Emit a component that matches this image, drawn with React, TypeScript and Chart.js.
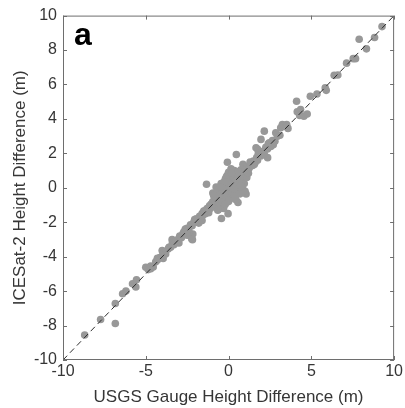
import React, { useEffect, useRef } from "react";
import { Chart, registerables } from "chart.js";

Chart.register(...registerables);

// USGS gauge height difference (m) -> x
const gaugeDiff: number[] = [
  9.27, 7.89, 8.33, 8.82, 7.67, 7.53, 7.13, 6.6, 6.38, 5.84, 5.9, 5.34, 4.94, 4.11, 4.35, 4.55, 4.15, 4.75, 4.3,
  3.59, 3.51, 3.25, 3.15, 2.85, 2.16, 1.96, 2.46, 1.66, 1.76, 2.36, 0.47, -0.07, 0.87, -1.33, 1.06, 0.57, -0.43,
  -0.03, -2.18, -2.16, -2.61, -2.22, -3.41, -4.01, -5.0, -4.7, -5.56, -5.8, -5.6, -6.4, -6.2, -6.84, -6.84, -7.73,
  -8.69,
  -4.85, -4.7, -4.55, -4.4, -4.3, -4.15, -4.0, -3.9, -3.8, -3.65, -3.5, -3.4, -3.3, -3.15, -3.05, -2.95, -2.85,
  -2.75, -2.6, -2.5, -2.4, -2.3, -2.2, -2.1, -2.0, -1.95, -1.85, -1.75, -1.7, -1.6, -1.55, -1.45, -1.4, -1.3,
  -1.25, -1.15, -1.1, -1.05, -1.0,
  -0.95, -0.9, -0.85, -0.8, -0.8, -0.75, -0.7, -0.7, -0.65, -0.6, -0.6, -0.55, -0.55, -0.5, -0.5, -0.45, -0.45,
  -0.4, -0.4, -0.35, -0.35, -0.3, -0.3, -0.25, -0.25, -0.2, -0.2, -0.15, -0.15, -0.1, -0.1, -0.05, -0.05, 0.0,
  0.0, 0.0, 0.05, 0.05, 0.1, 0.1, 0.15, 0.15, 0.15, 0.2, 0.2, 0.25, 0.25, 0.3, 0.3, 0.35, 0.35, 0.4, 0.4, 0.45,
  0.5, 0.5, 0.55, 0.6, 0.6, 0.65, 0.7, 0.75, 0.8, 0.85, 0.9, 0.95, 1.0, 1.0, 1.1, 1.15,
  1.25, 1.35, 1.45, 1.5, 1.6, 1.7, 1.75, 1.85, 1.95, 2.05, 2.15, 2.25, 2.35, 2.45, 2.55, 2.65, 2.8, 2.95, 3.1,
  -0.95, -0.75, -0.6, -0.45, -0.3, -0.15, 0.05, 0.2, 0.35, 0.55, 0.7, 0.85, 0.95, 1.1, -0.65, -0.2, 0.45, 0.75,
  -0.9, -0.5, -0.1, 0.3, 0.6, 1.2, -1.2, -1.5, -1.8, -2.05, -2.4, -2.7, -3.0, -3.6, -3.95, -4.3, -1.6, -2.5,
  1.3, 1.55, 1.8, 2.1, 2.4, 2.7,
];

// ICESat-2 height difference (m) -> y
const icesatDiff: number[] = [
  9.36, 8.63, 8.07, 8.73, 7.5, 7.5, 7.24, 6.55, 6.53, 5.8, 5.66, 5.45, 5.32, 5.03, 4.55, 4.16, 4.41, 4.29, 4.2,
  3.45, 3.68, 3.68, 3.49, 3.2, 3.29, 2.81, 2.62, 2.33, 2.24, 1.75, 1.93, 1.48, 1.37, 0.21, -0.36, -0.85, -1.78,
  -1.5, -3.01, -2.68, -2.39, -2.97, -3.01, -3.64, -4.61, -4.7, -5.34, -5.57, -5.76, -6.15, -6.0, -6.72, -7.88,
  -7.65, -8.55,
  -4.75, -4.55, -4.6, -4.3, -4.2, -4.05, -3.95, -3.75, -3.85, -3.55, -3.45, -3.25, -3.3, -3.05, -3.0, -2.8,
  -2.9, -2.65, -2.55, -2.35, -2.45, -2.15, -2.2, -2.0, -1.95, -1.8, -1.85, -1.65, -1.75, -1.5, -1.6, -1.35,
  -1.5, -1.2, -1.35, -1.05, -1.2, -0.95, -1.1,
  -0.8, -0.95, -0.7, -0.55, -1.0, -0.85, -0.6, -0.35, -0.75, -0.45, -0.9, -0.2, -0.6, -0.4, -1.05, -0.1, -0.7,
  -0.3, 0.1, -0.5, -0.85, -0.15, 0.3, -0.35, -1.0, 0.0, 0.5, -0.25, -0.65, 0.2, 0.7, -0.1, -0.45, 0.35,
  0.9, -0.8, 0.1, -0.3, 0.55, -0.05, 0.25, 1.1, -0.55, 0.4, 0.0, 0.75, -0.2, 0.2, 0.5, 1.0, 0.05, 0.35, -0.35, 0.65,
  0.45, 0.15, 0.9, 0.55, -0.15, 0.75, 0.4, 1.05, 0.65, -0.05, 0.9, 0.6, -0.2, 1.05, 0.95, 1.25,
  1.15, 1.4, 1.3, 1.55, 1.45, 1.75, 1.6, 1.9, 1.85, 2.1, 2.0, 2.35, 2.25, 2.5, 2.4, 2.75, 2.7, 3.0, 3.05,
  -0.3, 0.05, -1.25, 0.25, -1.2, 0.6, -0.7, 0.85, -0.45, 0.05, -0.35, 0.3, 0.25, 0.6, -1.3, -0.95, -0.7, 0.1,
  -0.45, 0.05, 0.35, -0.05, 0.95, 0.85, -1.45, -1.35, -2.05, -1.85, -2.6, -2.55, -3.2, -3.45, -4.1, -4.1, -1.9, -2.75,
  1.5, 1.35, 2.0, 1.95, 2.55, 2.5,
];

const oneToOne: number[] = [-10, 10];
const xTicks: number[] = [-10, -5, 0, 5, 10];
const yTicks: number[] = [-10, -8, -6, -4, -2, 0, 2, 4, 6, 8, 10];
const xTitle = "USGS Gauge Height Difference (m)";
const yTitle = "ICESat-2 Height Difference (m)";
const panelLabel = "a";

const FONT = "'Liberation Sans', Arial, Helvetica, sans-serif";
const TEXT = "#363636";
const AXIS = "#6e6e6e";

export default function App() {
  const ref = useRef<HTMLCanvasElement>(null);

  useEffect(() => {
    if (!ref.current) return;
    const points = gaugeDiff.map((x, i) => ({ x, y: icesatDiff[i] }));
    const line = oneToOne.map((v) => ({ x: v, y: v }));

    const framePlugin = {
      id: "frame",
      afterDraw(chart: any) {
        const { ctx, chartArea: a, scales } = chart;
        const xs = scales.x;
        const ys = scales.y;
        ctx.save();
        ctx.strokeStyle = AXIS;
        ctx.lineWidth = 1;
        ctx.strokeRect(a.left + 0.5, a.top + 0.5, a.right - a.left - 1, a.bottom - a.top - 1);
        const tl = 4;
        ctx.beginPath();
        xTicks.forEach((t) => {
          const px = Math.round(xs.getPixelForValue(t)) + 0.5;
          ctx.moveTo(px, a.bottom);
          ctx.lineTo(px, a.bottom - tl);
          ctx.moveTo(px, a.top);
          ctx.lineTo(px, a.top + tl);
        });
        yTicks.forEach((t) => {
          const py = Math.round(ys.getPixelForValue(t)) + 0.5;
          ctx.moveTo(a.left, py);
          ctx.lineTo(a.left + tl, py);
          ctx.moveTo(a.right, py);
          ctx.lineTo(a.right - tl, py);
        });
        ctx.stroke();
        ctx.fillStyle = "#000";
        ctx.font = `bold 32px ${FONT}`;
        ctx.textAlign = "left";
        ctx.textBaseline = "alphabetic";
        ctx.fillText(panelLabel, a.left + 11, a.top + 29);
        ctx.restore();
      },
    };

    const chart = new Chart(ref.current, {
      type: "scatter",
      data: {
        datasets: [
          {
            label: "1:1",
            data: line,
            showLine: true,
            borderColor: "rgb(45,45,45)",
            borderWidth: 1,
            borderDash: [6, 4],
            pointRadius: 0,
            fill: false,
          },
          {
            label: "points",
            data: points,
            pointRadius: 3.8,
            pointBackgroundColor: "rgb(152,152,152)",
            pointBorderWidth: 0,
            borderWidth: 0,
          },
        ],
      },
      options: {
        animation: false,
        responsive: true,
        maintainAspectRatio: false,
        layout: { padding: { top: 14, right: 7, left: 0, bottom: 0 } },
        plugins: { legend: { display: false }, tooltip: { enabled: false } },
        scales: {
          x: {
            type: "linear",
            min: -10,
            max: 10,
            afterBuildTicks: (s: any) => {
              s.ticks = xTicks.map((v) => ({ value: v }));
            },
            afterFit: (s: any) => {
              s.height = 48;
            },
            grid: { display: false, drawTicks: false },
            border: { display: false },
            ticks: { color: TEXT, font: { family: FONT, size: 16 }, padding: 2, maxRotation: 0, autoSkip: false },
            title: { display: true, text: xTitle, color: TEXT, font: { family: FONT, size: 17 }, padding: 0 },
          },
          y: {
            type: "linear",
            min: -10,
            max: 10,
            afterBuildTicks: (s: any) => {
              s.ticks = yTicks.map((v) => ({ value: v }));
            },
            afterFit: (s: any) => {
              s.width = 63;
            },
            grid: { display: false, drawTicks: false },
            border: { display: false },
            ticks: { color: TEXT, font: { family: FONT, size: 16 }, padding: 6, autoSkip: false },
            title: { display: true, text: yTitle, color: TEXT, font: { family: FONT, size: 17 }, padding: { top: 10, bottom: 0 } },
          },
        },
      },
      plugins: [framePlugin],
    });
    return () => chart.destroy();
  }, []);

  return (
    <div style={{ position: "fixed", left: 0, top: 0, width: 405, height: 408, background: "#fff" }}>
      <canvas ref={ref} />
    </div>
  );
}
